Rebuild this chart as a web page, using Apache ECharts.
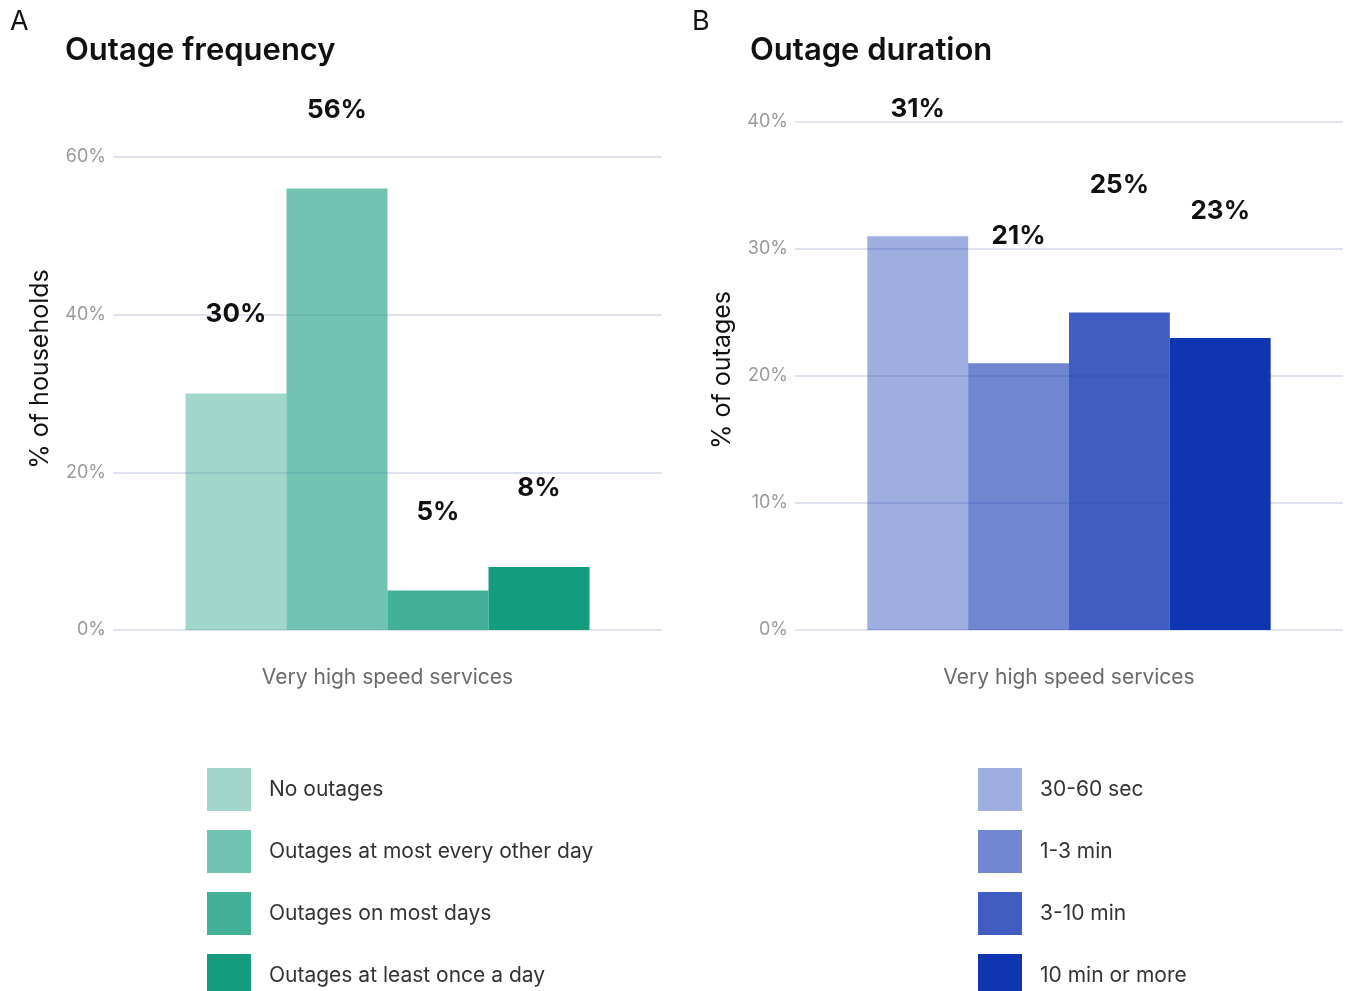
<!DOCTYPE html>
<html>
<head>
<meta charset="utf-8">
<script src="https://cdn.jsdelivr.net/npm/echarts@6/dist/echarts.min.js"></script>
<style>
  html, body { margin: 0; padding: 0; background: #fff; }
  #chart { width: 1349px; height: 991px; }
</style>
</head>
<body>
<div id="chart"></div>
<script>
// Shared category on both panels
const categories = ['Very high speed services'];

// Panel A: outage frequency (% of households)
const freqNames = ['No outages', 'Outages at most every other day', 'Outages on most days', 'Outages at least once a day'];
const freqValues = [30, 56, 5, 8];
const freqTicks = { min: 0, max: 60, interval: 20 };

// Panel B: outage duration (% of outages)
const durNames = ['30-60 sec', '1-3 min', '3-10 min', '10 min or more'];
const durValues = [31, 21, 25, 23];
const durTicks = { min: 0, max: 40, interval: 10 };

// Value labels sit this many axis units above each bar
const labelLift = 10;

const FONT = 'Inter, "Noto Sans", sans-serif';
const alphas = [0.4, 0.6, 0.8, 1];
const green = [20, 156, 126];
const blue = [16, 53, 178];
const rgba = (c, a) => `rgba(${c[0]},${c[1]},${c[2]},${a})`;

const gridA = { left: 113, top: 157, width: 549, height: 473 };
const gridB = { left: 795, top: 122, width: 548, height: 508 };

function yAxisFor(idx, ticks) {
  return {
    type: 'value', gridIndex: idx, min: ticks.min, max: ticks.max, interval: ticks.interval,
    axisLine: { show: false }, axisTick: { show: false },
    axisLabel: { formatter: v => v + '%', color: '#9a9a9a', fontSize: 18, fontFamily: FONT, margin: 7 },
    splitLine: { lineStyle: { color: '#dfe3ef', width: 2 } }
  };
}
function xAxisFor(idx) {
  return {
    type: 'category', gridIndex: idx, data: categories,
    axisLine: { show: false }, axisTick: { show: false },
    axisLabel: { color: '#6a6a6a', fontSize: 21, fontFamily: FONT, margin: 37 }
  };
}
function barSeries(names, values, color, idx, grid, ticks) {
  const pxPerUnit = grid.height / (ticks.max - ticks.min);
  return names.map((n, i) => ({
    name: n, type: 'bar', xAxisIndex: idx, yAxisIndex: idx,
    data: [values[i]],
    barGap: '0%', barCategoryGap: '26.4%',
    itemStyle: { color: rgba(color, alphas[i]) },
    label: {
      show: true, position: 'top', distance: labelLift * pxPerUnit,
      verticalAlign: 'middle',
      formatter: p => p.value + '%',
      color: '#111', fontSize: 26, fontWeight: 'bold', fontFamily: FONT
    },
    emphasis: { disabled: true }
  }));
}
function legendFor(names, left) {
  return {
    data: names, orient: 'vertical', left: left, top: 768, height: 260, padding: 0,
    itemWidth: 44, itemHeight: 43, itemGap: 19, icon: 'rect',
    selectedMode: false,
    textStyle: { color: '#333', fontSize: 21, fontFamily: FONT, padding: [0, 0, 0, 13] }
  };
}

const chart = echarts.init(document.getElementById('chart'), null, { renderer: 'canvas' });
chart.setOption({
  backgroundColor: '#fff',
  animation: false,
  title: [
    { text: 'Outage frequency', left: 65, top: 35, padding: 0, textStyle: { fontSize: 31, fontWeight: 600, color: '#111', fontFamily: FONT } },
    { text: 'Outage duration', left: 750, top: 35, padding: 0, textStyle: { fontSize: 31, fontWeight: 600, color: '#111', fontFamily: FONT } }
  ],
  grid: [gridA, gridB],
  xAxis: [xAxisFor(0), xAxisFor(1)],
  yAxis: [yAxisFor(0, freqTicks), yAxisFor(1, durTicks)],
  legend: [legendFor(freqNames, 207), legendFor(durNames, 978)],
  graphic: [
    { type: 'text', left: 10, top: 8, style: { text: 'A', fontSize: 27, fill: '#111', fontFamily: FONT } },
    { type: 'text', left: 692, top: 8, style: { text: 'B', fontSize: 27, fill: '#111', fontFamily: FONT } },
    { type: 'text', x: 40, y: 369, rotation: Math.PI / 2,
      style: { text: '% of households', fontSize: 25, fill: '#111', fontFamily: FONT, align: 'center', verticalAlign: 'middle' } },
    { type: 'text', x: 722, y: 370, rotation: Math.PI / 2,
      style: { text: '% of outages', fontSize: 25, fill: '#111', fontFamily: FONT, align: 'center', verticalAlign: 'middle' } }
  ],
  series: [
    ...barSeries(freqNames, freqValues, green, 0, gridA, freqTicks),
    ...barSeries(durNames, durValues, blue, 1, gridB, durTicks)
  ]
});
</script>
</body>
</html>
